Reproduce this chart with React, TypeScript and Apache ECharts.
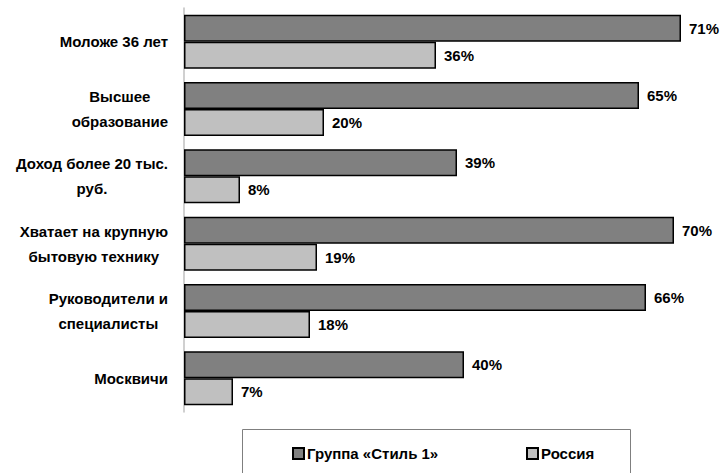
import React, { useEffect, useRef } from "react";
import * as echarts from "echarts";

// Profile of the "Стиль 1" group compared with Russia as a whole (%)
const categories = [
  "Моложе 36 лет",
  "Высшее\nобразование",
  "Доход более 20 тыс.\nруб.",
  "Хватает на крупную\nбытовую технику",
  "Руководители и\nспециалисты",
  "Москвичи",
];
const groupName = "Группа «Стиль 1»";
const russiaName = "Россия";
const groupValues = [71, 65, 39, 70, 66, 40];
const russiaValues = [36, 20, 8, 19, 18, 7];

const FONT = "'Liberation Sans', Arial, sans-serif";

export default function App() {
  const ref = useRef<HTMLDivElement>(null);

  useEffect(() => {
    if (!ref.current) return;
    document.body.style.margin = "0";
    document.body.style.overflow = "hidden";
    const chart = echarts.init(ref.current, null, { renderer: "svg" });

    const valueLabel = {
      show: true,
      position: "right" as const,
      distance: 8,
      formatter: "{c}%",
      color: "#000",
      fontFamily: FONT,
      fontWeight: "bold" as const,
      fontSize: 15,
    };

    const legendCommon = {
      top: 446,
      icon: "rect",
      itemWidth: 11,
      itemHeight: 11,
      itemGap: 0,
      padding: 0,
      textStyle: {
        color: "#000",
        fontFamily: FONT,
        fontWeight: "bold" as const,
        fontSize: 15,
        padding: [0, 0, 0, -2],
      },
    };

    chart.setOption({
      animation: false,
      backgroundColor: "#fff",
      grid: { left: 184, top: 8, width: 525, height: 404, containLabel: false },
      xAxis: {
        type: "value",
        min: 0,
        max: 75,
        show: false,
        splitLine: { show: false },
      },
      yAxis: {
        type: "category",
        data: categories,
        inverse: true,
        axisLine: { show: true, lineStyle: { color: "#c0c0c0", width: 1.5 } },
        axisTick: { show: false },
        axisLabel: {
          margin: 16,
          color: "#000",
          fontFamily: FONT,
          fontWeight: "bold",
          fontSize: 15,
          lineHeight: 25,
          formatter: (v: string) =>
            v
              .split("\n")
              .map((l) => `{c|${l}}`)
              .join("\n"),
          rich: {
            c: {
              align: "center",
              color: "#000",
              fontFamily: FONT,
              fontWeight: "bold",
              fontSize: 15,
              lineHeight: 25,
            },
          },
        },
      },
      legend: [
        { ...legendCommon, data: [groupName], left: 292 },
        { ...legendCommon, data: [russiaName], left: 526 },
      ],
      graphic: [
        {
          type: "rect",
          shape: { x: 242.5, y: 429.5, width: 388, height: 50 },
          style: { fill: "none", stroke: "#7f7f7f", lineWidth: 1 },
          silent: true,
        },
      ],
      series: [
        {
          name: groupName,
          type: "bar",
          data: groupValues,
          barWidth: 27,
          barGap: "0%",
          itemStyle: { color: "#808080", borderColor: "#000", borderWidth: 1.5 },
          label: valueLabel,
        },
        {
          name: russiaName,
          type: "bar",
          data: russiaValues,
          barWidth: 27,
          barGap: "0%",
          itemStyle: { color: "#c0c0c0", borderColor: "#000", borderWidth: 1.5 },
          label: valueLabel,
        },
      ],
    });

    return () => chart.dispose();
  }, []);

  return <div ref={ref} style={{ width: 722, height: 473 }} />;
}
